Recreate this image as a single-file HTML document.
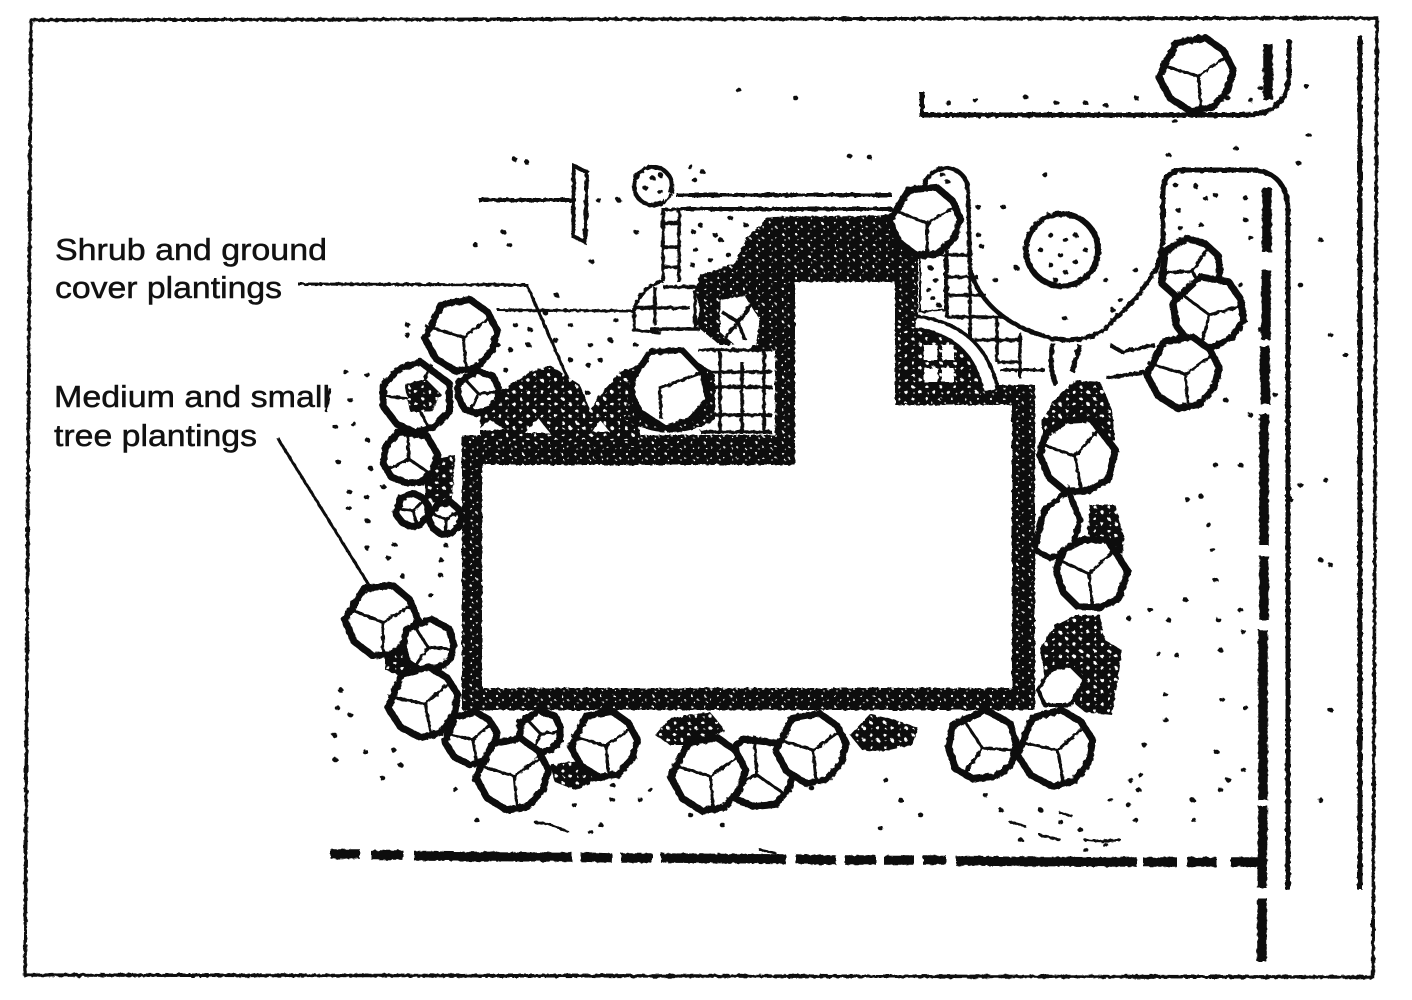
<!DOCTYPE html>
<html><head><meta charset="utf-8"><style>
html,body{margin:0;padding:0;background:#fff}
svg{display:block}
text{font-family:"Liberation Sans",sans-serif;font-size:31px;fill:#111;stroke:#111;stroke-width:.5}
</style></head><body>
<svg width="1412" height="1000" viewBox="0 0 1412 1000" xmlns="http://www.w3.org/2000/svg">
<defs>
<pattern id="st" width="13" height="11" patternUnits="userSpaceOnUse">
<rect width="13" height="11" fill="#0a0a0a"/>
<circle cx="3" cy="3" r="1.1" fill="#fff"/><circle cx="9" cy="7" r="1" fill="#ddd"/><circle cx="5" cy="9" r=".7" fill="#fff"/>
</pattern>
<pattern id="st2" width="14" height="12" patternUnits="userSpaceOnUse">
<rect width="14" height="12" fill="#0a0a0a"/>
<circle cx="3" cy="3" r="1.5" fill="#fff"/><circle cx="10" cy="8" r="1.7" fill="#fff"/><circle cx="4" cy="9" r=".8" fill="#fff"/>
</pattern>
<filter id="r" x="-2%" y="-2%" width="104%" height="104%">
<feTurbulence type="fractalNoise" baseFrequency="0.22" numOctaves="2" seed="4"/>
<feDisplacementMap in="SourceGraphic" scale="3.5"/>
</filter>
<g id="t">
<path d="M-52 -82 L24 -96 L72 -62 L98 -12 L84 42 L42 88 L-14 98 L-68 64 L-98 8 Z" fill="#fff" stroke="#0a0a0a" stroke-width="7" stroke-linejoin="round" vector-effect="non-scaling-stroke"/>
<path d="M-96 -25 L6 6 L84 -50 M6 6 L14 94" fill="none" stroke="#0a0a0a" stroke-width="3" vector-effect="non-scaling-stroke"/>
</g>
</defs>
<rect width="1412" height="1000" fill="#fff"/>
<g filter="url(#r)">
<!-- frame -->
<path d="M31 20 L1377 18 L1373 977 L25 975 Z" fill="none" stroke="#111" stroke-width="3.5"/>
<!-- road lines -->
<path d="M1360 36 L1360 890" stroke="#0a0a0a" stroke-width="5" fill="none"/>
<path d="M1289 40 L1289 75 Q1287 115 1245 115 L922 115 L922 92" stroke="#0a0a0a" stroke-width="5" fill="none"/>
<path d="M1163 240 L1163 192 Q1163 170 1185 170 L1252 170 Q1288 172 1288 212 L1288 890" stroke="#0a0a0a" stroke-width="5" fill="none"/>
<path d="M1268 44 L1268 100 M1267 188 L1267 252 M1266 270 L1266 340 M1265 346 L1265 404 M1264 414 L1264 545 M1264 556 L1264 620 M1263 630 L1263 800 M1263 806 L1262 888 M1262 898 L1262 962" stroke="#0a0a0a" stroke-width="9.5" fill="none"/>
<path d="M330 854 L360 854 M371 855 L403 855 M414 856 L572 857 M581 857 L612 858 M621 858 L652 858 M661 858 L786 859 M796 859 L836 860 M845 860 L876 860 M884 860 L914 860 M923 860 L946 860 M956 861 L1137 862 M1143 862 L1177 862 M1187 862 L1217 862 M1231 862 L1264 862" stroke="#0a0a0a" stroke-width="9.5" fill="none"/>

<!-- sign -->
<path d="M478 200 L576 200" stroke="#111" stroke-width="4" fill="none"/>
<path d="M574 166 L587 172 L585 242 L573 236 Z" fill="#fff" stroke="#111" stroke-width="4"/>

<!-- leader + bed edge -->
<path d="M298 284 L527 285 L575 395 M497 310 L634 311" stroke="#111" stroke-width="3" fill="none"/>
<path d="M277 437 L372 590" stroke="#111" stroke-width="3" fill="none"/>
<path d="M330 388 L326 412" stroke="#111" stroke-width="2.5" fill="none"/>

<!-- entry walk -->
<path d="M673 195 L892 195 M664 209 L892 209" stroke="#111" stroke-width="4" fill="none"/>
<circle cx="653" cy="186" r="19" fill="#fff" stroke="#111" stroke-width="4.5"/>
<rect x="664" y="193" width="12" height="15" fill="#fff"/>
<path d="M664 204 Q668 198 672 194" fill="none" stroke="#111" stroke-width="3"/>
<path d="M663 208 L663 282 M679 208 L679 350 M663 223 H679 M663 247 H679 M663 267 H679" stroke="#111" stroke-width="3.5" fill="none"/>
<path d="M634 312 Q638 288 663 281 L700 285 L708 310 L720 350 L660 345 L634 330 Z" fill="#fff"/>
<path d="M634 312 Q638 288 663 281 M634 308 V330 L660 333 M634 308 H690 M650 329 H700 M663 287 H710 M655 287 V325 M695 290 V330" stroke="#111" stroke-width="3.5" fill="none"/>

<!-- right patio -->
<path d="M945 190 L970 190 L970 270 Q985 320 1050 338 L1107 327 L1137 297 L1157 265 L1190 340 L1110 382 L1055 390 L990 390 L945 320 Z" fill="#fff"/>
<path d="M924 190 A22 22 0 0 1 968 190 L970 270 Q985 320 1050 338 Q1085 345 1107 327 L1137 297 L1157 268 L1163 240" stroke="#111" stroke-width="4.5" fill="none"/>
<path d="M947 255 H973 M947 277 H978 M947 295 H986 M947 317 H1005 M970 340 H1022 M997 362 H1022 M947 250 V318 M970 270 V362 M997 317 V362 M1020 333 V362" stroke="#111" stroke-width="3.5" fill="none"/>
<path d="M1000 370 H1045 M1020 362 V378" stroke="#111" stroke-width="3" fill="none"/>

<!-- building walls + dense planting -->
<path d="M462 435 L775 435 L775 345 L720 345 L695 325 L700 310 L695 290 L700 275 L735 263 L745 240 L768 217 L892 215 L918 240 L918 385 L1035 385 L1035 710 L462 710 Z" fill="url(#st)"/>
<path d="M482 465 L795 465 L795 282 L895 282 L895 405 L1012 405 L1012 688 L482 688 Z" fill="#fff"/>
<path d="M685 212 L768 212 L745 240 L735 263 L700 275 L686 280 Z" fill="#fff"/>
<path d="M775 300 L775 350 L750 350 Z" fill="url(#st)"/>

<!-- paving grid beside house -->
<rect x="698" y="350" width="77" height="85" fill="#fff"/>
<path d="M698 350 H772 M705 372 H772 M705 387 H772 M705 415 H772 M700 432 H772 M720 350 V434 M742 362 V434 M764 350 V434" stroke="#111" stroke-width="3.5" fill="none"/>

<!-- right patio interior stipple + arches -->
<path d="M920 258 L945 255 L945 310 L920 312 Z" fill="#fff" stroke="#111" stroke-width="2"/>
<path d="M898 325 Q975 332 985 392 L898 405 Z" fill="url(#st2)"/>
<path d="M916 322 Q978 330 990 390" stroke="#fff" stroke-width="11" fill="none"/>
<path d="M916 316 Q985 325 998 390 M916 329 Q972 337 982 390" stroke="#111" stroke-width="3.5" fill="none"/>
<path d="M924 345 H938 V360 H924Z M942 345 H954 V360 H942Z M924 368 H938 V382 H924Z M942 368 H954 V382 H942Z" fill="#fff"/>

<!-- stippled shrubs -->
<path d="M480 405 L505 388 L530 372 L550 365 L580 385 L590 410 L600 395 L620 372 L640 365 L640 440 L480 440 Z" fill="url(#st2)"/>
<path d="M525 433 L538 418 L550 433 Z M593 432 L600 420 L610 432Z M478 430 L490 420 L505 430Z" fill="#fff"/>
<path d="M1042 420 L1055 400 L1075 380 L1100 382 L1112 410 L1115 440 L1042 460 Z" fill="url(#st2)"/>
<path d="M1090 505 L1115 505 L1125 540 L1118 575 L1085 560 Z" fill="url(#st2)"/>
<path d="M1055 625 L1075 615 L1100 615 L1105 640 L1122 650 L1118 680 L1112 715 L1085 712 L1045 680 L1040 650 Z" fill="url(#st2)"/>
<path d="M870 714 L895 720 L918 728 L912 745 L880 752 L862 750 L850 735 Z" fill="url(#st2)"/>
<path d="M655 735 L670 718 L710 712 L725 730 L700 745 L670 745 Z" fill="url(#st2)"/>
<path d="M550 765 L580 760 L598 780 L575 790 L555 782 Z" fill="url(#st2)"/>
<path d="M385 640 L420 655 L440 665 L410 680 L385 670 Z" fill="url(#st2)"/>
<path d="M425 460 L455 455 L452 505 L425 500 Z" fill="url(#st2)"/>
<path d="M630 370 Q670 335 715 375 L715 420 Q670 445 625 420 Z" fill="url(#st)"/>

<!-- round plant -->
<circle cx="1062" cy="250" r="36" fill="#fff" stroke="#111" stroke-width="6"/>

<!-- trees -->
<use href="#t" transform="translate(1196 74) scale(.38)"/>
<use href="#t" transform="translate(925 221) rotate(5) scale(.36)"/>
<use href="#t" transform="translate(461 335) scale(.37)"/>
<use href="#t" transform="translate(478 392) rotate(30) scale(.22)"/>
<use href="#t" transform="translate(417 397) rotate(100) scale(.36)"/>
<path d="M405 385 L425 378 L442 395 L430 412 L410 412 Z" fill="url(#st2)"/>
<use href="#t" transform="translate(410 457) rotate(70) scale(.28)"/>
<use href="#t" transform="translate(412 510) rotate(-10) scale(.17)"/>
<use href="#t" transform="translate(445 518) rotate(5) scale(.17)"/>
<path d="M633 378 L650 352 L682 350 L703 372 L708 400 L690 420 L665 428 L640 412 L632 395 Z" fill="#fff" stroke="#0a0a0a" stroke-width="6" stroke-linejoin="round"/>
<path d="M661 419 L660 388 L703 372" fill="none" stroke="#0a0a0a" stroke-width="3.5"/>
<path d="M720 300 L745 296 L760 320 L755 345 L735 345 L720 332 Z" fill="#fff"/>
<path d="M722 312 L738 322 L755 300 M738 322 L745 340 M738 322 L725 338" fill="none" stroke="#0a0a0a" stroke-width="3.5"/>
<use href="#t" transform="translate(1190 270) rotate(-20) scale(.32)"/>
<use href="#t" transform="translate(1208 312) rotate(20) scale(.37)"/>
<use href="#t" transform="translate(1183 372) rotate(0) scale(.37)"/>
<path d="M1110 345 L1122 352 L1155 345 M1107 378 L1145 372" fill="none" stroke="#111" stroke-width="4"/>
<path d="M1053 343 Q1048 365 1056 385 M1080 345 L1072 372" fill="none" stroke="#111" stroke-width="5"/>
<use href="#t" transform="translate(1078 455) rotate(115) scale(.39)"/>
<path d="M1045 510 L1068 490 L1080 520 L1072 550 L1050 558 L1035 550 L1040 525 Z" fill="#fff" stroke="#0a0a0a" stroke-width="6"/>
<use href="#t" transform="translate(1092 573) rotate(120) scale(.37)"/>
<path d="M1050 670 L1070 665 L1085 680 L1070 705 L1045 705 L1038 690 Z" fill="#fff" stroke="#0a0a0a" stroke-width="4"/>
<use href="#t" transform="translate(1055 748) rotate(-5) scale(.39)"/>
<use href="#t" transform="translate(982 745) rotate(40) scale(.36)"/>
<use href="#t" transform="translate(381 620) rotate(5) scale(.37)"/>
<use href="#t" transform="translate(428 645) rotate(40) scale(.27)"/>
<use href="#t" transform="translate(423 702) rotate(-5) scale(.36)"/>
<use href="#t" transform="translate(471 738) rotate(-5) scale(.27)"/>
<use href="#t" transform="translate(540 732) rotate(30) scale(.22)"/>
<use href="#t" transform="translate(512 774) rotate(0) scale(.37)"/>
<use href="#t" transform="translate(604 744) rotate(0) scale(.34)"/>
<use href="#t" transform="translate(758 772) rotate(70) scale(.37)"/>
<use href="#t" transform="translate(708 774) rotate(0) scale(.38)"/>
<use href="#t" transform="translate(811 748) rotate(0) scale(.36)"/>

<!-- stipple dots -->
<path fill="none" stroke="#111" stroke-width="4.5" stroke-linecap="round" d="
M514 159h1M526 162h1M690 167h1M702 172h1M694 180h1M849 156h1M869 157h1M1045 175h1M1168 155h1M1298 163h1M1308 135h1M1227 98h1M1174 121h1M1235 148h1
M738 90h1M795 98h1M1025 97h1M1056 103h1M1085 103h1M1105 105h1M1136 98h1M948 103h1M975 100h1M1250 100h1M1260 88h1M1306 86h1
M598 200h1M618 200h1M503 232h1M475 245h1M509 245h1M591 261h1M556 295h1M545 313h1M636 232h1
M978 207h1M1003 207h1M978 235h1M981 246h1M1016 268h1M995 280h1M1064 318h1M1175 185h1M1195 186h1M1205 198h1M1178 210h1M1215 195h1M1245 198h1M1180 228h1M1200 225h1M1245 220h1M1250 238h1
M1135 270h1M1105 280h1M1120 300h1M1112 310h1M1300 285h1M1320 240h1M1345 355h1M1330 335h1M1240 285h1
M1260 330h1M1225 400h1M1240 465h1M1250 415h1M1215 465h1M1212 550h1M1200 496h1M1208 525h1M1187 500h1M1215 580h1M1300 485h1M1325 480h1M1275 395h1M1320 560h1M1330 565h1
M1128 618h1M1150 610h1M1168 620h1M1185 600h1M1218 620h1M1158 654h1M1176 655h1M1240 610h1M1243 632h1M1245 708h1M1220 650h1M1222 700h1M1165 695h1M1216 752h1M1165 720h1M1144 745h1M1138 790h1M1130 780h1M1128 805h1M1135 820h1M1193 820h1M1192 800h1M1220 790h1M1228 780h1M1243 770h1
M367 375h1M345 372h1M350 400h1M353 424h1M335 427h1M338 462h1M367 440h1M349 492h1M370 468h1M383 487h1M348 508h1M366 497h1M367 521h1M394 545h1M367 548h1M388 558h1M440 560h1M440 575h1M430 595h1M445 545h1M402 576h1M407 325h1M407 335h1
M337 708h1M350 715h1M334 735h1M365 752h1M382 778h1M393 750h1M400 765h1M335 760h1M340 690h1M455 790h1M474 780h1M476 820h1M574 805h1M590 832h1M600 825h1M612 785h1M612 800h1M640 800h1M650 790h1M690 815h1M722 825h1M811 788h1M885 780h1M900 800h1M985 795h1M1000 810h1M1040 810h1M1060 822h1M1020 840h1M1080 830h1M1110 800h1M1140 775h1M1085 850h1M1105 845h1M920 815h1M880 828h1
M515 325h1M530 330h1M528 345h1M510 350h1M505 370h1M497 345h1M555 340h1M570 325h1M590 345h1M610 340h1M600 360h1M588 365h1M615 320h1M635 345h1M570 360h1M587 393h1
M700 225h1M715 235h1M693 232h1M695 250h1M720 240h1M710 260h1M692 265h1M728 255h1M745 225h1M730 218h1
M1050 235h1M1065 240h1M1075 235h1M1040 250h1M1060 255h1M1075 262h1M1050 265h1M1085 250h1M1065 272h1M1055 280h1
M652 178h1M660 175h1M645 188h1M660 192h1M942 175h1M947 182h1
M930 268h1M935 280h1M932 298h1M938 305h1M928 290h1
M1290 500h1M1330 710h1M1320 800h1
"/>
<path fill="none" stroke="#111" stroke-width="2.5" stroke-linecap="round" d="M535 822 L552 825 L568 832 M1010 822 L1025 826 M1060 813 L1072 816 M1085 840 Q1100 842 1120 840 M760 850 L775 853 M1040 835 L1060 840"/>
</g>

<text x="55" y="260" textLength="272" lengthAdjust="spacingAndGlyphs">Shrub and ground</text>
<text x="55" y="298" textLength="227" lengthAdjust="spacingAndGlyphs">cover plantings</text>
<text x="54" y="407" textLength="276" lengthAdjust="spacingAndGlyphs">Medium and small</text>
<text x="54" y="446" textLength="203" lengthAdjust="spacingAndGlyphs">tree plantings</text>
</svg>
</body></html>
